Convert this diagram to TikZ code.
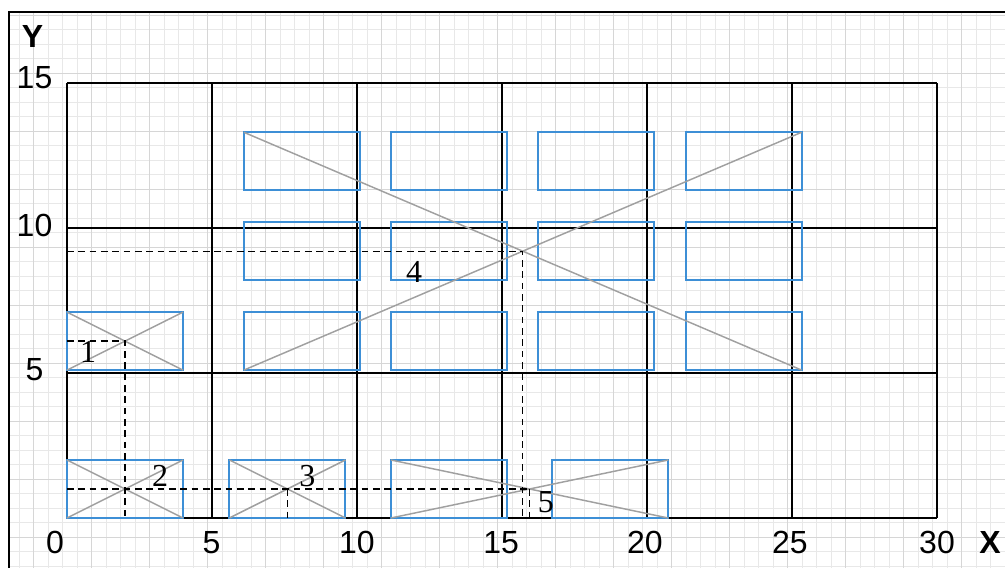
\documentclass[tikz,border=0pt]{standalone}
\usepackage{fontspec}
\setmainfont{Liberation Serif}
\setsansfont{Liberation Sans}
\definecolor{boxblue}{HTML}{3D8FD6}
\definecolor{diaggray}{HTML}{A0A0A0}
\definecolor{paperminor}{HTML}{E8E8E8}
\definecolor{papermajor}{HTML}{D6D6D6}
\usetikzlibrary{positioning}
\tikzset{
	ticktext/.style={font=\sffamily\fontsize{24}{24}\selectfont}
}
\tikzset{
	axistext/.style={font=\sffamily\bfseries\fontsize{24}{24}\selectfont},
	numtext/.style={font=\rmfamily\fontsize{24}{24}\selectfont},
	boxline/.style={draw=boxblue, line width=1.6pt},
	diagline/.style={draw=diaggray, line width=1.1pt},
	dashline/.style={draw=black, line width=1pt, dash pattern=on 5pt off 3.5pt}
}

\begin{document}
\begin{tikzpicture}[x=21.75pt, y=21.75pt]
      \useasboundingbox (-2.31,-1.724) rectangle (32.345,17.862);
      % paper grid
      \begin{scope}
        \clip (-2,-1.724) rectangle (32.345,17.455);
        \draw[paperminor, line width=0.8pt, shift={(0.36,0.34)}, step=0.5] (-3,-3) grid (33,19);
        \draw[papermajor, line width=0.8pt, shift={(0.86,1.34)}, step=2] (-4,-4) grid (34,20);
      \end{scope}
      \draw[line width=1.9pt] (-2,-1.8) -- (-2,17.455) -- (32.4,17.455);
      \draw[line width=0.9pt, step=5] (0,0) grid (30,15);
      \foreach \x/\l in {-0.41/0, 4.98/5, 10/10, 14.97/15, 19.93/20, 24.93/25, 30/30}
        \node[ticktext] (tx\l) at (\x,-0.86) {\l};
      \foreach \y/\l in {5.1/5, 10.1/10, 15.19/15}
        \node[ticktext] (ty\l) at (-1.12,\y) {\l};
      \node[axistext] (xlab) at (31.83,-0.86) {X};
      \node[axistext] (ylab) at (-1.19,16.6) {Y};
      % blue blocks
      \foreach \bx in {6.1, 11.17, 16.25, 21.33}
        \foreach \by in {5.1, 8.2, 11.3}
          \draw[boxline] (\bx,\by) rectangle ++(4,2);
      \draw[boxline] (0,5.1) rectangle ++(4,2);
      \foreach \bx in {0, 5.6, 11.17, 16.73}
        \draw[boxline] (\bx,0) rectangle ++(4,2);
      % diagonals
      \draw[diagline] (0,5.1) -- (4,7.1) (0,7.1) -- (4,5.1);
      \draw[diagline] (0,0) -- (4,2) (0,2) -- (4,0);
      \draw[diagline] (5.6,0) -- (9.6,2) (5.6,2) -- (9.6,0);
      \draw[diagline] (11.17,2) -- (20.73,0) (11.17,0) -- (20.73,2);
      \draw[diagline] (6.1,13.3) -- (25.33,5.1) (6.1,5.1) -- (25.33,13.3);
      \coordinate (p1) at (2,6.1);
      \coordinate (p2) at (2,1);
      \coordinate (p3) at (7.6,1);
      \coordinate (p4) at (15.715,9.2);
      \coordinate (p5) at (15.95,1);
      % dashed helpers
      \draw[dashline] (p1 -| 0,0) -- (p1) -- (p1 |- 0,0);
      \draw[dashline] (p2 -| 0,0) -- (p5);
      \draw[dashline] (p3) -- (p3 |- 0,0);
      \draw[dashline] (p4 -| 0,0) -- (p4) -- (p4 |- 0,0);
      \draw[dashline] (p5) -- (p5 |- 0,0);
      \foreach \x/\y/\l in {0.73/5.72/1, 3.21/1.45/2, 8.29/1.45/3, 11.97/8.47/4, 16.51/0.53/5}
        \node[numtext] (n\l) at (\x,\y) {\l};
\end{tikzpicture}
\end{document}
